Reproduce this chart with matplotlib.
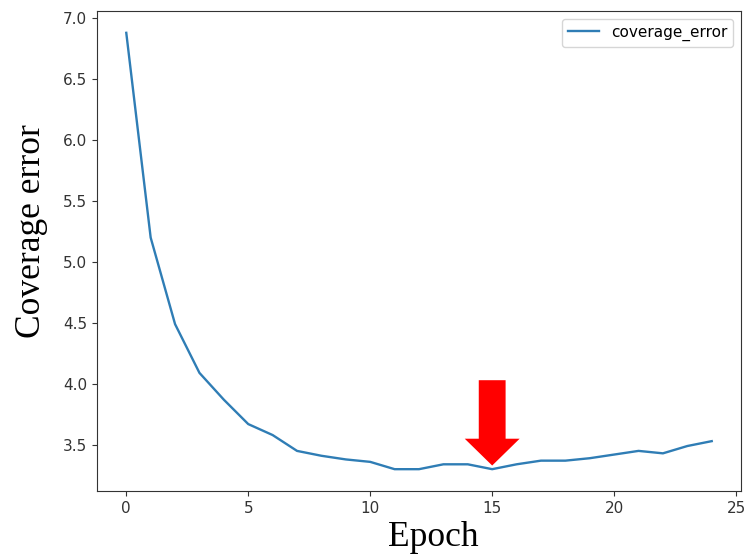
import numpy as np
import matplotlib
matplotlib.use("Agg")
from matplotlib import pyplot as plt

# coverage error per epoch
epochs = list(range(25))
coverage_error = [6.88, 5.20, 4.49, 4.09, 3.87, 3.67, 3.58, 3.45, 3.41, 3.38,
                  3.36, 3.30, 3.30, 3.34, 3.34, 3.30, 3.34, 3.37, 3.37, 3.39,
                  3.42, 3.45, 3.43, 3.49, 3.53]
best_epoch = 15

fig = plt.figure(figsize=(7.47, 5.58), dpi=100)
ax = fig.add_axes([97 / 747, 1 - 491 / 558, 644 / 747, 480 / 558])

ax.plot(epochs, coverage_error, color='#2f7db5', lw=1.7, label='coverage_error')
ax.legend(loc='upper right', fontsize=11)

ax.tick_params(labelsize=11, colors='#333333')
for s in ax.spines.values():
    s.set_color('#333333')

serif = ['Liberation Serif', 'DejaVu Serif']
ax.set_xlabel('Epoch', family=serif, fontsize=25.5)
ax.set_ylabel('Coverage error', family=serif, fontsize=25.5)
ax.xaxis.set_label_coords(0.523, -0.062)
ax.yaxis.set_label_coords(-0.076, 0.542)

# red block arrow pointing at the chosen epoch
tip = coverage_error[best_epoch]
ax.arrow(best_epoch, tip + 0.73, 0, -0.70, width=1.1, head_width=2.25,
         head_length=0.22, length_includes_head=True, color='red', lw=0)

fig.savefig('out.png', dpi=100)
